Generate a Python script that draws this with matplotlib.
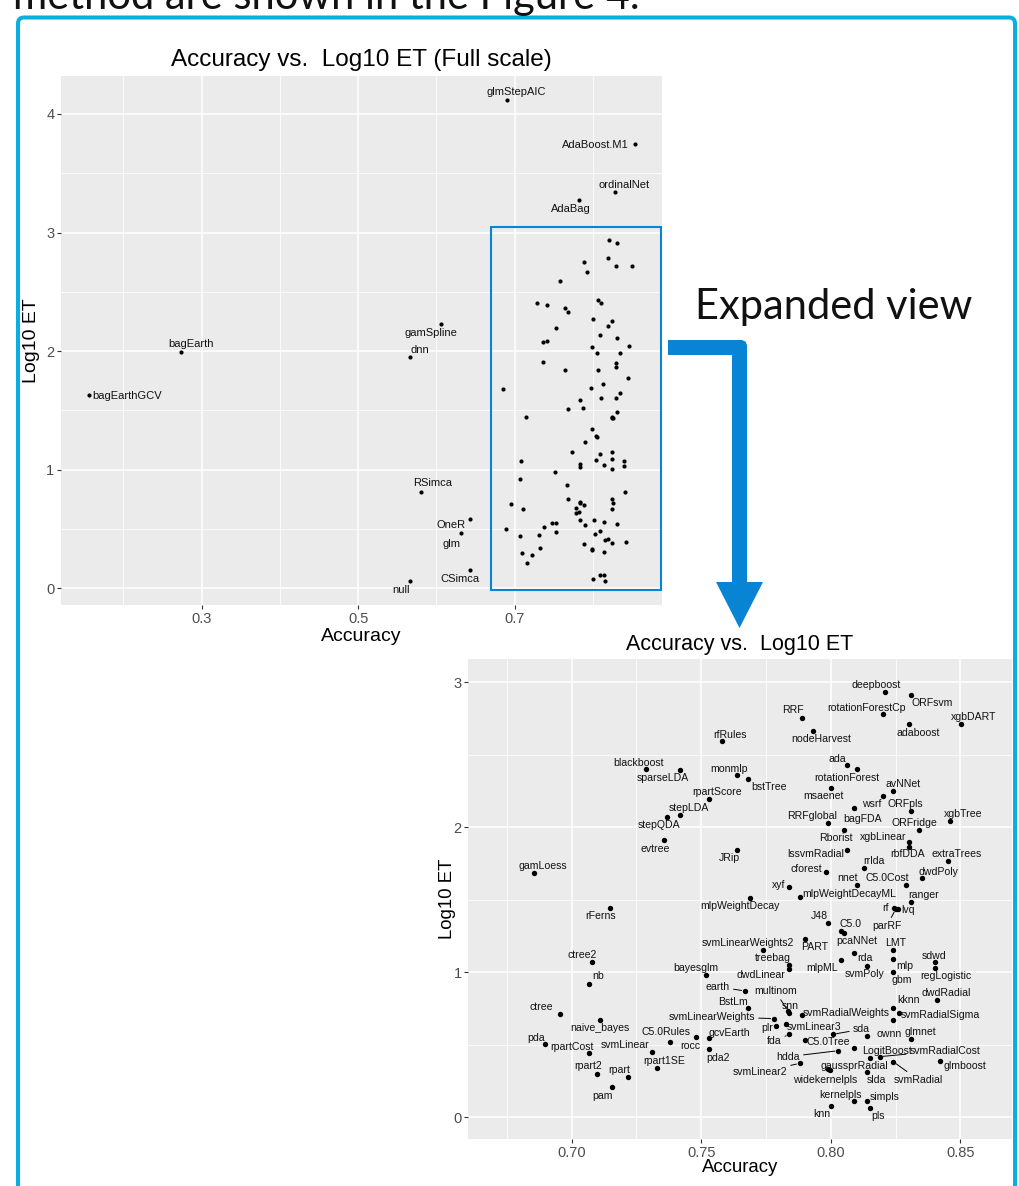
import matplotlib
matplotlib.use('Agg')
import matplotlib.pyplot as plt
from matplotlib.patches import Rectangle, Polygon, FancyBboxPatch

plt.rcParams['font.family'] = ['Liberation Sans', 'DejaVu Sans']

# model names, accuracy and log10 of execution time
models = [
    'rfRules', 'blackboost', 'sparseLDA', 'monmlp', 'bstTree', 'rpartScore', 'stepLDA', 'stepQDA', 'evtree', 'JRip',
    'deepboost', 'ORFsvm', 'rotationForestCp', 'RRF', 'xgbDART', 'adaboost', 'nodeHarvest', 'ada', 'rotationForest', 'msaenet',
    'avNNet', 'wsrf', 'ORFpls', 'bagFDA', 'xgbTree', 'RRFglobal', 'Rborist', 'ORFridge', 'xgbLinear', 'rbfDDA',
    'lssvmRadial', 'extraTrees', 'rrlda', 'cforest', 'dwdPoly', 'nnet', 'C5.0Cost', 'xyf', 'mlpWeightDecayML', 'mlpWeightDecay',
    'ranger', 'rf', 'parRF', 'lvq', 'J48', 'C5.0', 'pcaNNet', 'PART', 'svmLinearWeights2', 'LMT',
    'rda', 'sdwd', 'mlpML', 'mlp', 'treebag', 'dwdLinear', 'svmPoly', 'regLogistic', 'gbm', 'bayesglm',
    'earth', 'dwdRadial', 'multinom', 'BstLm', 'kknn', 'snn', 'svmRadialWeights', 'svmRadialSigma', 'svmLinearWeights', '',
    'plr', 'svmLinear3', 'sda', 'ownn', 'glmnet', 'gcvEarth', 'fda', 'C5.0Tree', 'hdda', 'LogitBoost',
    '', 'svmRadialCost', 'svmLinear2', 'gaussprRadial', 'widekernelpls', 'slda', 'svmRadial', 'glmboost', 'kernelpls', 'simpls',
    'knn', 'pls', 'rocc', 'C5.0Rules', 'svmLinear', 'rpart1SE', 'pda2', 'ctree', 'naive_bayes', 'pda',
    'rpartCost', 'rpart2', 'rpart', 'pam', 'gamLoess', 'rFerns', 'ctree2', 'nb',
    'glmStepAIC', 'AdaBoost.M1', 'ordinalNet', 'AdaBag', 'gamSpline', 'dnn', 'bagEarth', 'bagEarthGCV', 'RSimca', 'OneR',
    'glm', 'CSimca', 'null',
]
accuracy = [
    0.7579, 0.7288, 0.7418, 0.7638, 0.7679, 0.7529, 0.7418, 0.7368, 0.7357, 0.7638,
    0.8211, 0.8310, 0.8200, 0.7890, 0.8501, 0.8301, 0.7930, 0.8061, 0.8100, 0.7999,
    0.8241, 0.8200, 0.8310, 0.8090, 0.8461, 0.7990, 0.8051, 0.8341, 0.8301, 0.8301,
    0.8061, 0.8452, 0.8130, 0.7980, 0.8351, 0.8100, 0.8291, 0.7840, 0.7880, 0.7689,
    0.8310, 0.8245, 0.8251, 0.8259, 0.7990, 0.8040, 0.8051, 0.7900, 0.7739, 0.8241,
    0.8090, 0.8402, 0.8040, 0.8241, 0.7840, 0.7840, 0.8140, 0.8402, 0.8241, 0.7517,
    0.7669, 0.8411, 0.7836, 0.7679, 0.8241, 0.7840, 0.7890, 0.8263, 0.7781, 0.8241,
    0.7789, 0.7829, 0.8009, 0.8140, 0.8310, 0.7529, 0.7840, 0.7900, 0.8029, 0.8151,
    0.8090, 0.8189, 0.7881, 0.7990, 0.7995, 0.8140, 0.8241, 0.8422, 0.8090, 0.8140,
    0.8000, 0.8151, 0.7480, 0.7378, 0.7309, 0.7328, 0.7529, 0.6956, 0.7108, 0.6896,
    0.7068, 0.7096, 0.7217, 0.7157, 0.6856, 0.7148, 0.7077, 0.7067,
    0.6897, 0.8537, 0.8282, 0.7828, 0.606, 0.566, 0.274, 0.1555, 0.581, 0.643,
    0.632, 0.643, 0.566,
]
log10_et = [
    2.595, 2.404, 2.393, 2.363, 2.333, 2.193, 2.083, 2.073, 1.912, 1.843,
    2.933, 2.914, 2.783, 2.754, 2.714, 2.714, 2.664, 2.432, 2.404, 2.273,
    2.252, 2.214, 2.112, 2.133, 2.041, 2.032, 1.981, 1.981, 1.901, 1.862,
    1.841, 1.770, 1.719, 1.692, 1.650, 1.602, 1.602, 1.590, 1.521, 1.512,
    1.483, 1.441, 1.437, 1.433, 1.342, 1.285, 1.273, 1.230, 1.152, 1.152,
    1.131, 1.071, 1.083, 1.092, 1.050, 1.021, 1.041, 1.032, 1.002, 0.981,
    0.871, 0.811, 0.730, 0.752, 0.752, 0.721, 0.703, 0.719, 0.680, 0.671,
    0.632, 0.643, 0.572, 0.561, 0.540, 0.549, 0.572, 0.531, 0.459, 0.411,
    0.480, 0.418, 0.372, 0.331, 0.326, 0.310, 0.383, 0.390, 0.110, 0.112,
    0.080, 0.062, 0.552, 0.519, 0.448, 0.340, 0.471, 0.710, 0.671, 0.503,
    0.441, 0.301, 0.280, 0.209, 1.683, 1.441, 1.071, 0.921,
    4.115, 3.744, 3.344, 3.274, 2.226, 1.948, 1.995, 1.630, 0.815, 0.587,
    0.466, 0.157, 0.059,
]

# region that is shown enlarged in the lower panel
box_acc = (0.6695, 0.8877)
box_log = (-0.014, 3.049)

# label placement (pixels: label centre minus point, y down)
top_offsets = {
    'glmStepAIC': (10, -8), 'AdaBoost.M1': (-39, 1), 'ordinalNet': (9, -7), 'AdaBag': (-9, 9),
    'gamSpline': (-10, 9), 'dnn': (10, -7), 'bagEarth': (10, -8), 'bagEarthGCV': (39, 1),
    'RSimca': (11, -9), 'OneR': (-19, 6), 'glm': (-10, 11), 'CSimca': (-10, 9), 'null': (-9, 9),
}
bot_offsets = {
    'rfRules': (8, -6), 'blackboost': (-8, -6), 'sparseLDA': (-17, 8), 'monmlp': (-8, -6), 'bstTree': (21, 8),
    'rpartScore': (8, -7), 'stepLDA': (9, -7), 'stepQDA': (-8, 8), 'evtree': (-9, 9), 'JRip': (-8, 8),
    'deepboost': (-9, -7), 'ORFsvm': (21, 8), 'rotationForestCp': (-16, -6), 'RRF': (-9, -8), 'xgbDART': (13, -7),
    'adaboost': (9, 9), 'nodeHarvest': (9, 8), 'ada': (-9, -6), 'rotationForest': (-10, 9), 'msaenet': (-7, 8),
    'avNNet': (10, -7), 'wsrf': (-11, 8), 'ORFpls': (-6, -7), 'bagFDA': (8, 11), 'xgbTree': (13, -7),
    'RRFglobal': (-16, -7), 'Rborist': (-8, 8), 'ORFridge': (-5, -7), 'xgbLinear': (-26, -5), 'rbfDDA': (-1, 7),
    'lssvmRadial': (-31, 4), 'extraTrees': (9, -7), 'rrlda': (9, -7), 'cforest': (-19, -3), 'dwdPoly': (17, -6),
    'nnet': (-9, -7), 'C5.0Cost': (-19, -7), 'xyf': (-11, -2), 'mlpWeightDecayML': (50, -3), 'mlpWeightDecay': (-10, 8),
    'ranger': (12, -7), 'rf': (-9, 0), 'parRF': (-9, 17), 'lvq': (10, 1), 'J48': (-9, -7),
    'C5.0': (9, -7), 'pcaNNet': (13, 8), 'PART': (10, 8), 'svmLinearWeights2': (-15, -7), 'LMT': (2, -7),
    'rda': (11, 5), 'sdwd': (-1, -6), 'mlpML': (-19, 8), 'mlp': (12, 7), 'treebag': (-17, -7),
    'dwdLinear': (-28, 6), 'svmPoly': (-2, 8), 'regLogistic': (11, 8), 'gbm': (8, 8), 'bayesglm': (-10, -7),
    'earth': (-27, -4), 'dwdRadial': (9, -7), 'multinom': (-13, -20), 'BstLm': (-15, -6), 'kknn': (15, -8),
    'snn': (1, -7), 'svmRadialWeights': (44, -2), 'svmRadialSigma': (41, 2), 'svmLinearWeights': (-62, -2),
    'plr': (-9, 2), 'svmLinear3': (28, 3), 'sda': (28, -5), 'ownn': (22, -2), 'glmnet': (9, -7),
    'gcvEarth': (21, -5), 'fda': (-15, 7), 'C5.0Tree': (23, 2), 'hdda': (-50, 6), 'LogitBoost': (17, -7),
    'svmRadialCost': (65, -6), 'svmLinear2': (-40, 9), 'gaussprRadial': (26, -3), 'widekernelpls': (-4, 10),
    'slda': (9, 8), 'svmRadial': (25, 18), 'glmboost': (25, 5), 'kernelpls': (-14, -6), 'simpls': (18, -4),
    'knn': (-9, 8), 'pls': (8, 8), 'rocc': (-6, 9), 'C5.0Rules': (-4, -10), 'svmLinear': (-27, -7),
    'rpart1SE': (8, -7), 'pda2': (9, 9), 'ctree': (-19, -7), 'naive_bayes': (0, 8), 'pda': (-9, -6),
    'rpartCost': (-17, -6), 'rpart2': (-8, -8), 'rpart': (-9, -7), 'pam': (-10, 9), 'gamLoess': (9, -7),
    'rFerns': (-9, 8), 'ctree2': (-9, -7), 'nb': (9, -8),
}
segments = {'bagFDA', 'parRF', 'earth', 'multinom', 'kknn', 'svmLinearWeights', 'sda', 'fda',
            'hdda', 'svmRadialCost', 'svmLinear2', 'svmRadial'}

BLUE = '#0784D4'
CYAN = '#0AAFE0'
W, H = 1020, 1186

fig = plt.figure(figsize=(W / 100, H / 100), dpi=100)


def px_rect(x0, y0, x1, y1):
    return [x0 / W, 1 - y1 / H, (x1 - x0) / W, (y1 - y0) / H]


def gg_style(ax, pad_y):
    ax.set_facecolor('#EBEBEB')
    for s in ax.spines.values():
        s.set_visible(False)
    ax.grid(True, which='major', color='white', lw=1.1)
    ax.grid(True, which='minor', color='white', lw=0.55)
    ax.set_axisbelow(True)
    ax.tick_params(which='major', length=3, width=0.8, color='#333333',
                   labelcolor='#4D4D4D', labelsize=10.5)
    ax.tick_params(axis='x', which='major', pad=2)
    ax.tick_params(axis='y', which='major', pad=pad_y)
    ax.tick_params(which='minor', length=0)


def put_label(ax, name, x, y, off, size):
    dx, dy = off
    kw = {}
    if name in segments:
        kw['arrowprops'] = dict(arrowstyle='-', color='black', lw=0.7, shrinkA=0.5, shrinkB=2.5)
    ax.annotate(name, (x, y), xytext=(dx, -dy), textcoords='offset pixels',
                ha='center', va='center', fontsize=size, color='#111111', zorder=4, **kw)


# ---- full scale panel ----
ax1 = fig.add_axes(px_rect(60.7, 76, 662, 605))
gg_style(ax1, 1.5)
ax1.scatter(accuracy, log10_et, s=9, c='black', lw=0, zorder=3)
ax1.set_xlim(0.1199, 0.8884)
ax1.set_ylim(-0.141, 4.32)
ax1.set_xticks([0.3, 0.5, 0.7], ['0.3', '0.5', '0.7'])
ax1.set_xticks([0.2, 0.4, 0.6, 0.8], minor=True)
ax1.set_yticks([0, 1, 2, 3, 4], ['0', '1', '2', '3', '4'])
ax1.set_yticks([0.5, 1.5, 2.5, 3.5], minor=True)
ax1.set_title('Accuracy vs.  Log10 ET (Full scale)', fontsize=17.5, pad=7)
ax1.set_xlabel('Accuracy', fontsize=14)
ax1.set_ylabel('Log10 ET', fontsize=14)
ax1.xaxis.set_label_coords(0.5, -0.043)
ax1.yaxis.set_label_coords(-0.034, 0.5)
for n, a, l in zip(models, accuracy, log10_et):
    inside = box_acc[0] <= a <= box_acc[1] and box_log[0] <= l <= box_log[1]
    if n and not inside:
        put_label(ax1, n, a, l, top_offsets[n], 8)
ax1.add_patch(Rectangle((box_acc[0], box_log[0]), box_acc[1] - box_acc[0], box_log[1] - box_log[0],
                        fill=False, ec=BLUE, lw=1.5, zorder=5, clip_on=False))

# ---- expanded panel ----
ax2 = fig.add_axes(px_rect(467.7, 659, 1011.7, 1139))
gg_style(ax2, 1.2)
xl, yl = (0.6599, 0.8698), (-0.15, 3.16)
sel = [(n, a, l) for n, a, l in zip(models, accuracy, log10_et)
       if xl[0] <= a <= xl[1] and yl[0] <= l <= yl[1]]
ax2.scatter([s[1] for s in sel], [s[2] for s in sel], s=15, c='black', lw=0, zorder=3)
ax2.set_xlim(*xl)
ax2.set_ylim(*yl)
ax2.set_xticks([0.70, 0.75, 0.80, 0.85], ['0.70', '0.75', '0.80', '0.85'])
ax2.set_xticks([0.675, 0.725, 0.775, 0.825], minor=True)
ax2.set_yticks([0, 1, 2, 3], ['0', '1', '2', '3'])
ax2.set_yticks([0.5, 1.5, 2.5], minor=True)
ax2.set_title('Accuracy vs.  Log10 ET', fontsize=15.5, pad=6.5)
ax2.set_xlabel('Accuracy', fontsize=13.4)
ax2.set_ylabel('Log10 ET', fontsize=13.4)
ax2.xaxis.set_label_coords(0.5, -0.042)
ax2.yaxis.set_label_coords(-0.0215, 0.5)
for n, a, l in sel:
    if n:
        put_label(ax2, n, a, l, bot_offsets[n], 7.6)

# ---- page decorations: frame, caption text, arrow ----
ov = fig.add_axes([0, 0, 1, 1], zorder=10)
ov.set_xlim(0, W)
ov.set_ylim(H, 0)
ov.axis('off')
ov.patch.set_alpha(0)
ov.add_patch(FancyBboxPatch((18, 17.5), 997, 1250, boxstyle='round,pad=0,rounding_size=6',
                            fill=False, ec=CYAN, lw=2.9))
ov.text(13, 9, 'method are shown in the Figure 4.', fontsize=30, family=['Lato', 'DejaVu Sans'],
        va='baseline', ha='left', color='#111111')
ov.text(695, 319.3, 'Expanded view', fontsize=30, family=['Lato', 'DejaVu Sans'],
        va='baseline', ha='left', color='#111111')
arrow = [(668, 340), (742, 340), (745.5, 341.5), (747, 345), (747, 582), (763, 582), (739.5, 628),
         (716, 582), (732, 582), (732, 355), (668, 355)]
ov.add_patch(Polygon(arrow, closed=True, fc=BLUE, ec='none'))

fig.savefig('out.png', dpi=100)
